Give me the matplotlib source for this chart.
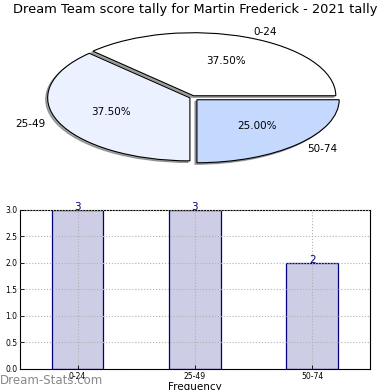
import matplotlib.pyplot as plt

categories = ["0-24", "25-49", "50-74"]
counts = [3, 3, 2]
pie_colors = ["#ffffff", "#ebf1ff", "#c5d9ff"]
explode = [0.03, 0.015, 0.05]
yticks = [0.0, 0.5, 1.0, 1.5, 2.0, 2.5, 3.0]

fig = plt.figure(figsize=(3.9, 3.9), dpi=100)

# pie on top, squashed (no equal aspect)
ax1 = fig.add_axes([0.036, 0.548, 0.912, 0.404])
wedges, texts, autotexts = ax1.pie(counts, labels=categories, colors=pie_colors,
                                   explode=explode, autopct="%1.2f%%",
                                   shadow={"ox": -0.01, "oy": -0.018, "shade": 0.65},
                                   startangle=0,
                                   wedgeprops={"edgecolor": "black", "linewidth": 0.8},
                                   textprops={"fontsize": 7.5})
ax1.set_aspect("auto")
ax1.set_xlim(-1.25, 1.25)
ax1.set_ylim(-1.25, 1.25)
fig.text(0.5, 0.975, "Dream Team score tally for Martin Frederick - 2021 tally",
         ha="center", va="center", fontsize=9.4)

# bar chart below
ax2 = fig.add_axes([0.0513, 0.054, 0.897, 0.408])
x = list(range(len(categories)))
ax2.bar(x, counts, width=0.44, color="#cdcde6",
        edgecolor="#000080", linewidth=0.9, zorder=1)
for xi, c in zip(x, counts):
    ax2.text(xi, c - 0.04, str(c), ha="center", va="bottom", color="#000080", fontsize=7.5)
ax2.set_xlim(-0.49, 2.49)
ax2.set_ylim(0, 3)
ax2.set_xticks(x)
ax2.set_xticklabels(categories, fontsize=5.5)
ax2.set_yticks(yticks)
ax2.set_yticklabels([f"{v:.1f}" for v in yticks], fontsize=5.5)
ax2.tick_params(direction="in", length=3, width=0.6, pad=2)
ax2.grid(True, linestyle=":", color="#b0b0b0", linewidth=0.8)
ax2.set_axisbelow(False)
ax2.set_xlabel("Frequency", fontsize=7.5, labelpad=1)
for s in ax2.spines.values():
    s.set_linewidth(0.8)

fig.text(0.0, 0.025, "Dream-Stats.com", fontsize=8.5, color="#888888",
         ha="left", va="center")

fig.savefig("out.png", dpi=100)
